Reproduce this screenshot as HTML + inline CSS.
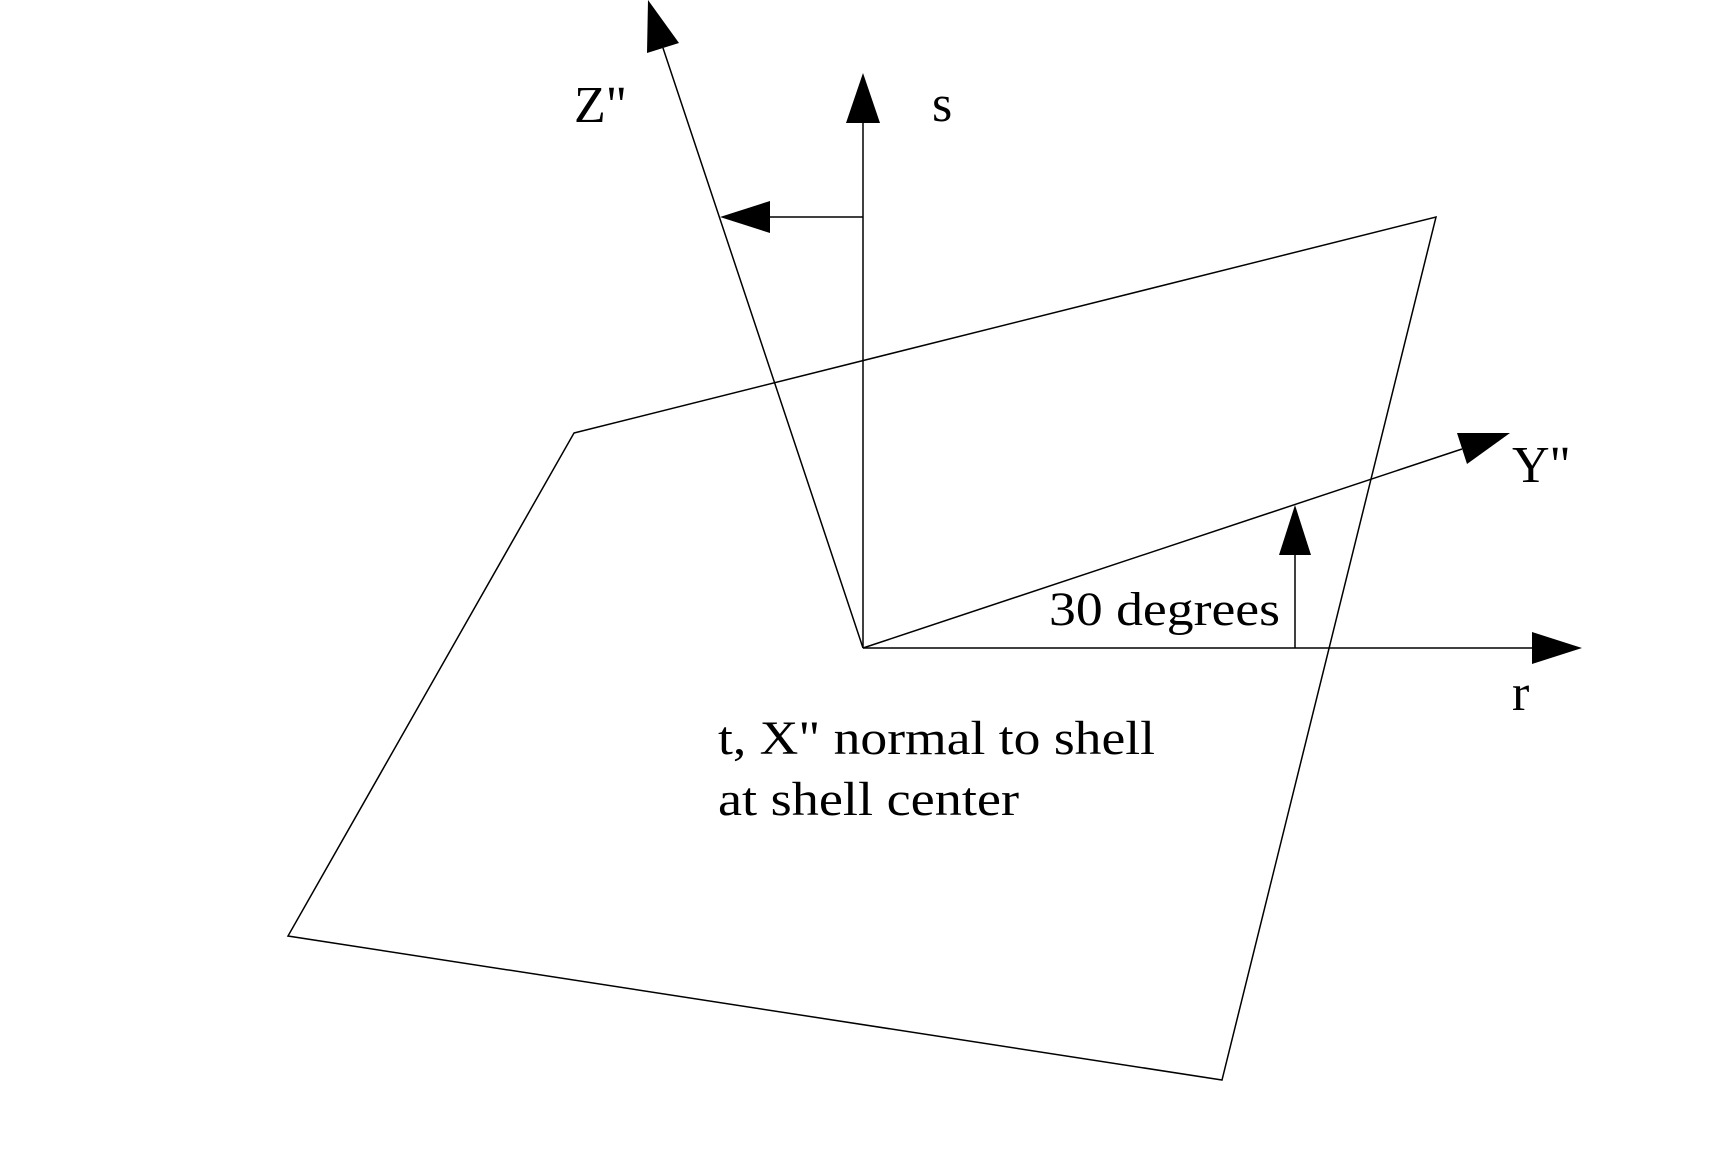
<!DOCTYPE html>
<html><head><style>html,body{margin:0;padding:0;background:#fff}</style></head>
<body>
<svg width="1720" height="1148" viewBox="0 0 1720 1148" xmlns="http://www.w3.org/2000/svg" font-family="Liberation Serif, serif" font-size="48">
<rect width="1720" height="1148" fill="#fff"/>
<g stroke="#000" stroke-width="1.5" fill="none">
<polygon points="574,433 1436,217 1222,1080 288,936"/>
<line x1="863" y1="648" x2="863" y2="120"/>
<line x1="863" y1="648" x2="663" y2="48"/>
<line x1="863" y1="217" x2="765" y2="217"/>
<line x1="863" y1="648" x2="1462" y2="449"/>
<line x1="1295" y1="648" x2="1295" y2="550"/>
<line x1="863" y1="648" x2="1535" y2="648"/>
</g>
<g fill="#000">
<polygon points="863,73 846,123 880,123"/>
<polygon points="648,0 647,53 679,43"/>
<polygon points="720,217 770,201 770,233"/>
<polygon points="1510,433 1457,433 1467,464"/>
<polygon points="1295,505 1279,555 1311,555"/>
<polygon points="1582,648 1532,632 1532,664"/>
</g>
<g fill="#000">
<text x="574" y="122" font-size="52">Z"</text>
<text x="932" y="121" font-size="52">s</text>
<text x="1512" y="482" font-size="52">Y"</text>
<text x="1512" y="710" font-size="52">r</text>
<text x="1049" y="625" textLength="231" lengthAdjust="spacingAndGlyphs">30 degrees</text>
<text x="718" y="754" textLength="437" lengthAdjust="spacingAndGlyphs">t, X" normal to shell</text>
<text x="718" y="815" textLength="301" lengthAdjust="spacingAndGlyphs">at shell center</text>
</g>
</svg>
</body></html>
